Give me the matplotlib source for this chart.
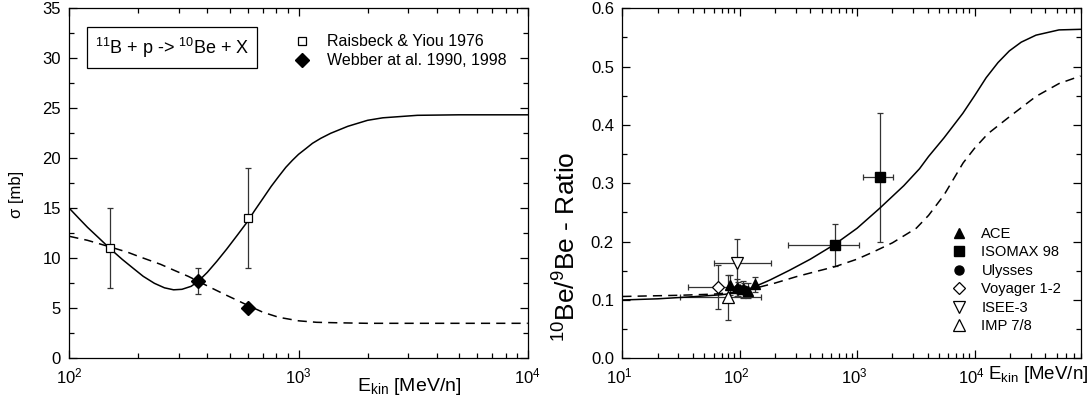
import matplotlib
matplotlib.use("Agg")
import matplotlib.pyplot as plt
import matplotlib.transforms as mtransforms
import numpy as np
from matplotlib.ticker import LogLocator, MultipleLocator, NullFormatter

plt.rcParams["font.family"] = ["Liberation Sans", "DejaVu Sans"]
plt.rcParams["mathtext.default"] = "regular"

# ---- left panel: 11B + p -> 10Be + X cross section ----
sig_solid_e = [100, 110, 120, 135, 150, 170, 190, 210, 235, 260, 285, 310, 340, 365, 400,
               440, 485, 540, 600, 640, 700, 760, 820, 880, 940, 1000, 1080, 1150, 1250,
               1380, 1640, 2000, 2330, 3300, 5000, 10000]
sig_solid = [15.0, 14.0, 13.1, 12.0, 11.0, 9.9, 9.0, 8.2, 7.5, 7.05, 6.85, 6.9, 7.2, 7.7, 8.6,
             9.7, 10.9, 12.3, 13.7, 14.7, 16.0, 17.2, 18.2, 19.1, 19.8, 20.4, 21.0, 21.5, 22.0,
             22.5, 23.2, 23.8, 24.05, 24.3, 24.35, 24.35]
sig_dash_e = [100, 120, 150, 180, 200, 250, 290, 330, 365, 420, 480, 540, 600, 700, 820,
              1000, 1200, 1500, 2000, 10000]
sig_dash = [12.2, 11.8, 11.15, 10.6, 10.2, 9.4, 8.75, 8.2, 7.7, 7.0, 6.35, 5.8, 5.3, 4.6, 4.1,
            3.75, 3.6, 3.55, 3.5, 3.5]

raisbeck_e = [150, 600]
raisbeck_sig = [11.0, 14.0]
raisbeck_err = [4.0, 5.0]
webber_e = [365, 600]
webber_sig = [7.7, 5.0]
webber_err = [1.3, 0.0]

# ---- right panel: 10Be/9Be ratio ----
ratio_solid_e = [10, 20, 40, 70, 100, 134, 180, 266, 400, 645, 1000, 1553, 2500, 3400, 4060,
                 5500, 7950, 10000, 12560, 15850, 19800, 25000, 33400, 52400, 80000]
ratio_solid = [0.100, 0.102, 0.1056, 0.109, 0.113, 0.1228, 0.134, 0.151, 0.170, 0.1954, 0.223,
               0.257, 0.296, 0.325, 0.346, 0.378, 0.420, 0.450, 0.481, 0.507, 0.527, 0.542,
               0.554, 0.563, 0.564]
ratio_dash_e = [10, 30, 60, 100, 134, 200, 304, 450, 645, 1000, 1362, 2000, 3190, 4060, 5500,
                8000, 10000, 13000, 19800, 33400, 52400, 80000]
ratio_dash = [0.106, 0.108, 0.110, 0.114, 0.120, 0.129, 0.140, 0.149, 0.157, 0.170, 0.182,
              0.198, 0.223, 0.245, 0.280, 0.335, 0.360, 0.385, 0.414, 0.449, 0.471, 0.484]

ace_e = [82, 94, 106, 117, 134]
ace_r = [0.125, 0.121, 0.118, 0.116, 0.127]
ace_err = [0.017, 0.015, 0.014, 0.013, 0.013]

isomax_e = [644, 1553]
isomax_r = [0.195, 0.310]
isomax_r_lo = [0.159, 0.199]
isomax_r_hi = [0.230, 0.420]
isomax_e_lo = [260, 1122]
isomax_e_hi = [1030, 2018]

ulysses_e = [97, 108]
ulysses_r = [0.119, 0.117]
ulysses_err = [0.012, 0.012]

voyager_e = [65]
voyager_r = [0.122]
voyager_r_lo = [0.084]
voyager_r_hi = [0.160]
voyager_e_lo = [36.5]
voyager_e_hi = [100]

isee_e = [95]
isee_r = [0.163]
isee_r_lo = [0.122]
isee_r_hi = [0.204]
isee_e_lo = [60.5]
isee_e_hi = [184]

imp_e = [80]
imp_r = [0.105]
imp_r_lo = [0.066]
imp_r_hi = [0.143]
imp_e_lo = [31]
imp_e_hi = [153]

ERR_KW = dict(fmt="none", ecolor="#333333", elinewidth=0.9, capsize=2, capthick=0.9, zorder=2)


def _bounds(center, lo, hi):
    c = np.asarray(center, dtype=float)
    return np.vstack([c - np.asarray(lo, dtype=float), np.asarray(hi, dtype=float) - c])


def _style_axes(ax):
    ax.tick_params(which="both", direction="in", top=True, right=True, labelsize=12,
                   width=0.9, pad=6)
    ax.tick_params(which="major", length=6)
    ax.tick_params(which="minor", length=3.5)
    ax.xaxis.set_minor_locator(LogLocator(base=10, subs=np.arange(2, 10)))
    ax.xaxis.set_minor_formatter(NullFormatter())
    for spine in ax.spines.values():
        spine.set_linewidth(0.9)


fig = plt.figure(figsize=(10.92, 4.04), dpi=100)
ax1 = fig.add_axes([0.0635, 0.1131, 0.4198, 0.8663])
ax2 = fig.add_axes([0.5699, 0.1131, 0.4196, 0.8663])

# left
ax1.plot(sig_solid_e, sig_solid, color="black", lw=1.1, zorder=3)
ax1.plot(sig_dash_e, sig_dash, color="black", lw=1.1, ls=(0, (6, 4)), zorder=3)
ax1.errorbar(raisbeck_e, raisbeck_sig, yerr=raisbeck_err, **ERR_KW)
ax1.errorbar(webber_e[:1], webber_sig[:1], yerr=webber_err[:1], **ERR_KW)
ax1.plot(raisbeck_e, raisbeck_sig, ls="none", marker="s", ms=6, mfc="white", mec="black",
         mew=0.9, label="Raisbeck & Yiou 1976", zorder=4)
ax1.plot(webber_e, webber_sig, ls="none", marker="D", ms=7, mfc="black", mec="black",
         label="Webber at al. 1990, 1998", zorder=4)
ax1.set_xscale("log")
ax1.set_xlim(100, 10000)
ax1.set_ylim(0, 35)
ax1.yaxis.set_major_locator(MultipleLocator(5))
ax1.yaxis.set_minor_locator(MultipleLocator(2.5))
_style_axes(ax1)
ax1.set_ylabel("σ [mb]", fontsize=12)
ax1.yaxis.set_label_coords(-0.099, 0.467)
ax1.set_xlabel("E$_{kin}$ [MeV/n]", fontsize=14)
ax1.xaxis.set_label_coords(0.741, -0.05)
ax1.text(0.224, 0.888, "$^{11}$B + p -> $^{10}$Be + X", transform=ax1.transAxes,
         ha="center", va="center", fontsize=13,
         bbox=dict(boxstyle="square,pad=0.45", facecolor="white", edgecolor="black", lw=0.9))
ax1.legend(loc="upper left", bbox_to_anchor=(0.4895, 0.926), frameon=False, fontsize=11.5,
           handlelength=1.0, handletextpad=1.1, labelspacing=0.25, borderpad=0,
           borderaxespad=0)

# right
ax2.plot(ratio_solid_e, ratio_solid, color="black", lw=1.1, zorder=3)
ax2.plot(ratio_dash_e, ratio_dash, color="black", lw=1.1, ls=(0, (6, 4)), zorder=3)
ax2.errorbar(isomax_e, isomax_r, yerr=_bounds(isomax_r, isomax_r_lo, isomax_r_hi),
             xerr=_bounds(isomax_e, isomax_e_lo, isomax_e_hi), **ERR_KW)
ax2.errorbar(voyager_e, voyager_r, yerr=_bounds(voyager_r, voyager_r_lo, voyager_r_hi),
             xerr=_bounds(voyager_e, voyager_e_lo, voyager_e_hi), **ERR_KW)
ax2.errorbar(isee_e, isee_r, yerr=_bounds(isee_r, isee_r_lo, isee_r_hi),
             xerr=_bounds(isee_e, isee_e_lo, isee_e_hi), **ERR_KW)
ax2.errorbar(imp_e, imp_r, yerr=_bounds(imp_r, imp_r_lo, imp_r_hi),
             xerr=_bounds(imp_e, imp_e_lo, imp_e_hi), **ERR_KW)
ax2.errorbar(ace_e, ace_r, yerr=ace_err, **ERR_KW)
ax2.errorbar(ulysses_e, ulysses_r, yerr=ulysses_err, **ERR_KW)

ax2.plot(ace_e, ace_r, ls="none", marker="^", ms=7, color="black", label="ACE", zorder=5)
ax2.plot(isomax_e, isomax_r, ls="none", marker="s", ms=7, color="black", label="ISOMAX 98",
         zorder=5)
ax2.plot(ulysses_e, ulysses_r, ls="none", marker="o", ms=6.5, color="black", label="Ulysses",
         zorder=5)
ax2.plot(voyager_e, voyager_r, ls="none", marker="D", ms=6.5, mfc="white", mec="black",
         mew=0.9, label="Voyager 1-2", zorder=4)
ax2.plot(isee_e, isee_r, ls="none", marker="v", ms=8, mfc="white", mec="black", mew=0.9,
         label="ISEE-3", zorder=4)
ax2.plot(imp_e, imp_r, ls="none", marker="^", ms=8, mfc="white", mec="black", mew=0.9,
         label="IMP 7/8", zorder=4)
ax2.set_xscale("log")
ax2.set_xlim(10, 80000)
ax2.set_ylim(0, 0.6)
ax2.yaxis.set_major_locator(MultipleLocator(0.1))
ax2.yaxis.set_minor_locator(MultipleLocator(0.05))
ax2.yaxis.set_major_formatter(plt.FormatStrFormatter("%.1f"))
_style_axes(ax2)
# the x tick labels sit a little left of their ticks in the original
shift = mtransforms.ScaledTranslation(-3 / 100, 0, fig.dpi_scale_trans)
for lbl in ax2.get_xticklabels():
    lbl.set_transform(lbl.get_transform() + shift)
ax2.set_ylabel("$^{10}$Be/$^{9}$Be - Ratio", fontsize=19)
ax2.yaxis.set_label_coords(-0.092, 0.319)
ax2.set_xlabel("E$_{kin}$ [MeV/n]", fontsize=13.5, ha="left")
ax2.xaxis.set_label_coords(0.798, -0.016)
ax2.legend(loc="upper left", bbox_to_anchor=(0.7195, 0.375), frameon=False, fontsize=10.6,
           handlelength=1.0, handletextpad=1.0, labelspacing=0.30, borderpad=0,
           borderaxespad=0)

fig.savefig("out.png", dpi=100)
